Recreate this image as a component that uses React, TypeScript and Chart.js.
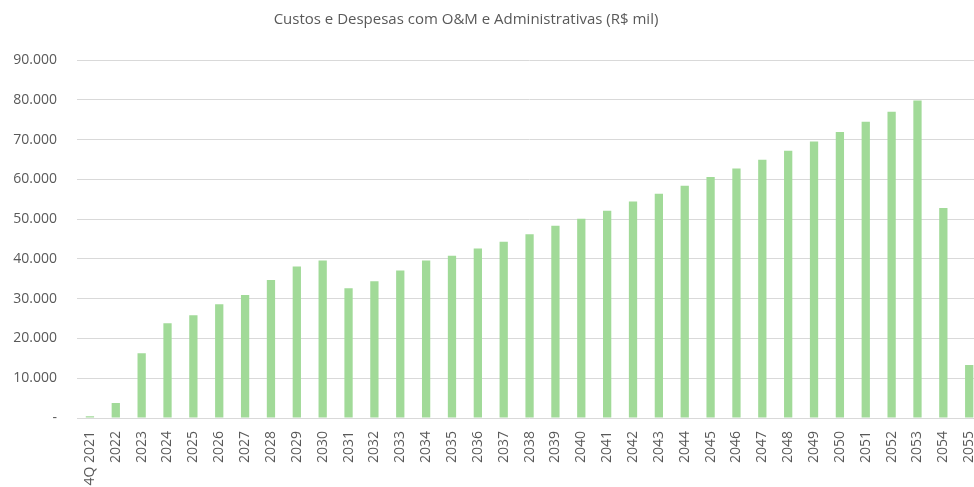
import React, { useEffect, useRef } from "react";
import { Chart, registerables } from "chart.js";

Chart.register(...registerables);

const categories: string[] = [
  "4Q 2021", "2022", "2023", "2024", "2025", "2026", "2027", "2028", "2029", "2030",
  "2031", "2032", "2033", "2034", "2035", "2036", "2037", "2038", "2039", "2040",
  "2041", "2042", "2043", "2044", "2045", "2046", "2047", "2048", "2049", "2050",
  "2051", "2052", "2053", "2054", "2055",
];

const costs: number[] = [
  450, 3800, 16300, 23800, 25800, 28600, 30900, 34700, 38100, 39600,
  32600, 34400, 37100, 39600, 40800, 42600, 44300, 46200, 48300, 50100,
  52100, 54400, 56400, 58400, 60600, 62700, 64900, 67200, 69500, 71900,
  74500, 77000, 79800, 52800, 13300,
];

const yTicks: number[] = [0, 10000, 20000, 30000, 40000, 50000, 60000, 70000, 80000, 90000];

const titleText = "Custos e Despesas com O&M e Administrativas (R$ mil)";

const fmt = (v: number) =>
  v === 0 ? "-" : String(Math.round(v)).replace(/\B(?=(\d{3})+(?!\d))/g, ".");

const titleCenterPlugin = {
  id: "titleCenter",
  afterLayout(chart: any) {
    const tb = chart.titleBlock;
    if (tb) {
      tb.left = 0;
      tb.right = 932;
    }
  },
};

export default function App() {
  const ref = useRef<HTMLCanvasElement | null>(null);

  useEffect(() => {
    if (!ref.current) return;
    const font = "'Open Sans', sans-serif";
    const chart = new Chart(ref.current, {
      type: "bar",
      data: {
        labels: categories,
        datasets: [
          {
            data: costs,
            backgroundColor: "rgb(161,218,152)",
            borderWidth: 0,
            categoryPercentage: 1,
            barPercentage: 0.32,
          },
        ],
      },
      plugins: [titleCenterPlugin],
      options: {
        animation: false,
        responsive: false,
        maintainAspectRatio: false,
        layout: { padding: { left: 0, right: 0, top: 0, bottom: 0 } },
        plugins: {
          legend: { display: false },
          tooltip: { enabled: false },
          title: {
            display: true,
            text: titleText,
            color: "#595959",
            font: { family: font, size: 15, weight: "normal" },
            padding: { top: 11, bottom: 31 },
          },
        },
        scales: {
          x: {
            grid: { display: false, drawTicks: false },
            border: { display: false },
            ticks: {
              color: "#595959",
              font: { family: font, size: 14 },
              minRotation: 90,
              maxRotation: 90,
              autoSkip: false,
              padding: 13,
            },
            afterFit: (s: any) => {
              s.height = 69;
            },
          },
          y: {
            min: 0,
            max: 90000,
            afterBuildTicks: (s: any) => {
              s.ticks = yTicks.map((v) => ({ value: v }));
            },
            grid: { color: "#d9d9d9", lineWidth: 1, drawTicks: false },
            border: { display: false },
            ticks: {
              color: "#595959",
              font: { family: font, size: 14 },
              padding: 20,
              callback: (v: any) => fmt(Number(v)),
            },
            afterFit: (s: any) => {
              s.width = 77;
            },
          },
        },
      },
    });
    return () => chart.destroy();
  }, []);

  return (
    <div
      style={{
        position: "fixed",
        left: 0,
        top: 0,
        width: 974,
        height: 487,
        overflow: "hidden",
        background: "#fff",
      }}
    >
      <canvas ref={ref} width={999} height={487} style={{ display: "block" }} />
    </div>
  );
}
